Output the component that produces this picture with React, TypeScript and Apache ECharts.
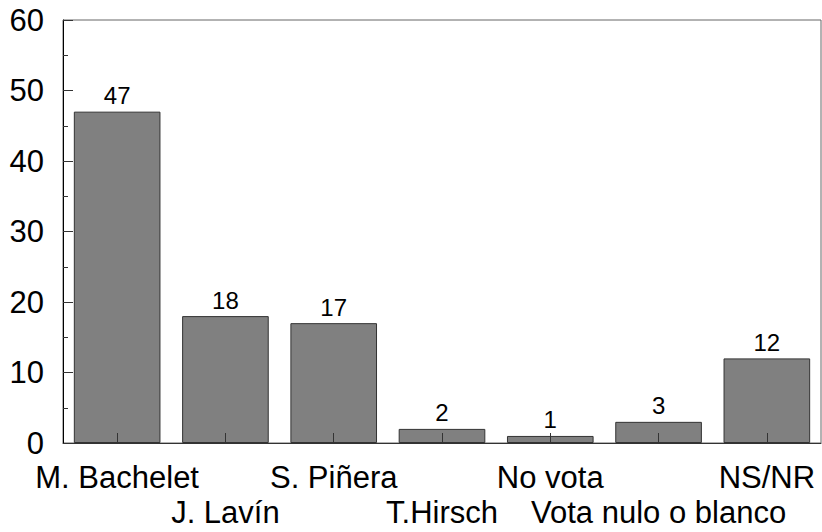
import React, { useEffect, useRef } from "react";
import * as echarts from "echarts";

const categories = [
  "M. Bachelet",
  "J. Lavín",
  "S. Piñera",
  "T.Hirsch",
  "No vota",
  "Vota nulo o blanco",
  "NS/NR",
];
const values = [47, 18, 17, 2, 1, 3, 12];
const yMin = 0;
const yMax = 60;
const yInterval = 10;

export default function App() {
  const ref = useRef<HTMLDivElement>(null);
  useEffect(() => {
    if (!ref.current) return;
    const chart = echarts.init(ref.current, undefined, { renderer: "svg" });
    const font = "'Liberation Sans', Arial, Helvetica, sans-serif";
    chart.setOption({
      animation: false,
      backgroundColor: "#ffffff",
      grid: {
        left: 63,
        right: 1,
        top: 20,
        bottom: 89,
        show: true,
        borderColor: "#666666",
        borderWidth: 1,
        backgroundColor: "transparent",
      },
      xAxis: {
        type: "category",
        data: categories,
        z: 5,
        axisLine: { show: true, lineStyle: { color: "#333333", width: 1 } },
        axisTick: {
          show: true,
          inside: true,
          alignWithLabel: true,
          length: 10,
          lineStyle: { color: "#333333" },
        },
        axisLabel: {
          interval: 0,
          hideOverlap: false,
          margin: 17,
          fontFamily: font,
          fontSize: 31,
          lineHeight: 35,
          color: "#000000",
          formatter: (value: string, index: number) =>
            index % 2 === 0 ? value : "\n" + value,
        },
        splitLine: { show: false },
      },
      yAxis: {
        type: "value",
        min: yMin,
        max: yMax,
        interval: yInterval,
        z: 5,
        axisLine: { show: true, lineStyle: { color: "#000000", width: 1 } },
        axisTick: {
          show: true,
          inside: true,
          length: 10,
          lineStyle: { color: "#333333" },
        },
        minorTick: {
          show: true,
          splitNumber: 2,
          length: 5,
          lineStyle: { color: "#333333" },
        },
        axisLabel: {
          margin: 19,
          fontFamily: font,
          fontSize: 31,
          color: "#000000",
        },
        splitLine: { show: false },
      },
      series: [
        {
          type: "bar",
          data: values,
          barCategoryGap: "20%",
          itemStyle: {
            color: "#808080",
            borderColor: "#333333",
            borderWidth: 1,
          },
          label: {
            show: true,
            position: "top",
            distance: 4,
            fontFamily: font,
            fontSize: 24,
            color: "#000000",
          },
        },
      ],
    });
    return () => chart.dispose();
  }, []);
  return (
    <div
      ref={ref}
      style={{ position: "fixed", left: 0, top: 0, width: 822, height: 532 }}
    />
  );
}
